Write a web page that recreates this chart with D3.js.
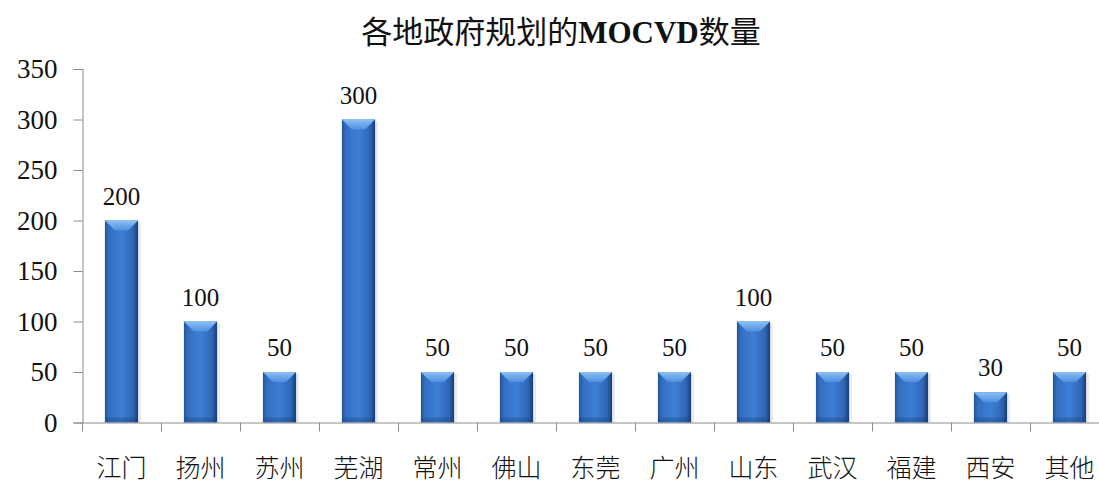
<!DOCTYPE html>
<html>
<head>
<meta charset="utf-8">
<script src="https://cdn.jsdelivr.net/npm/d3@7"></script>
<style>
  body { margin: 0; background: #fff; }
  svg { display: block; }
</style>
</head>
<body>
<div id="chart"></div>
<script>
const categories = ["江门", "扬州", "苏州", "芜湖", "常州", "佛山", "东莞", "广州", "山东", "武汉", "福建", "西安", "其他"];
const values = [200, 100, 50, 300, 50, 50, 50, 50, 100, 50, 50, 30, 50];
const yTicks = [0, 50, 100, 150, 200, 250, 300, 350];
const titleParts = [["各地政府规划的", false], ["MOCVD", true], ["数量", false]];

const W = 1099, H = 483;
const margin = { top: 69, right: -10, bottom: 60, left: 82 };

const svg = d3.select("#chart")
    .append("svg")
    .attr("width", W)
    .attr("height", H);

const x = d3.scaleBand()
    .domain(categories)
    .range([margin.left, W - margin.right])
    .paddingInner(0.58)
    .paddingOuter(0.29);

const y = d3.scaleLinear()
    .domain([0, 350])
    .range([H - margin.bottom - 0.5, margin.top]);

// gradients for the bevelled bars
const defs = svg.append("defs");
const side = defs.append("linearGradient").attr("id", "barSide")
    .attr("x1", "0%").attr("x2", "100%").attr("y1", "0%").attr("y2", "0%");
side.append("stop").attr("offset", "0%").attr("stop-color", "#24559c");
side.append("stop").attr("offset", "12%").attr("stop-color", "#336fc0");
side.append("stop").attr("offset", "50%").attr("stop-color", "#3d7fd6");
side.append("stop").attr("offset", "85%").attr("stop-color", "#2f66b4");
side.append("stop").attr("offset", "100%").attr("stop-color", "#163d76");

const topG = defs.append("linearGradient").attr("id", "barTop")
    .attr("x1", "0%").attr("x2", "0%").attr("y1", "0%").attr("y2", "100%");
topG.append("stop").attr("offset", "0%").attr("stop-color", "#8cc0f5");
topG.append("stop").attr("offset", "100%").attr("stop-color", "#4f8fe0");

// title: chinese regular, latin bold
const title = svg.append("text")
    .attr("x", 561)
    .attr("y", 32)
    .attr("text-anchor", "middle")
    .attr("dominant-baseline", "central")
    .style("font-family", "'Liberation Serif', 'Noto Sans CJK SC', serif")
    .style("font-size", "31px")
    .style("fill", "#111");
title.selectAll("tspan")
    .data(titleParts)
    .enter().append("tspan")
    .style("font-weight", d => d[1] ? "bold" : "normal")
    .text(d => d[0]);

// y axis
const yAxis = svg.append("g")
    .attr("transform", `translate(${margin.left + 0.5},0)`)
    .call(d3.axisLeft(y).tickValues(yTicks).tickSize(9).tickPadding(16));
yAxis.select(".domain").attr("stroke", "#8c8c8c");
yAxis.selectAll(".tick line").attr("stroke", "#8c8c8c");
yAxis.selectAll(".tick text")
    .style("font-family", "'Liberation Serif', serif")
    .style("font-size", "27px")
    .style("fill", "#111");

// bars
const bev = 10;
const bars = svg.append("g").selectAll("g.bar")
    .data(values)
    .enter().append("g")
    .attr("class", "bar");

bars.append("rect")
    .attr("x", (d, i) => x(categories[i]) + 3)
    .attr("y", d => y(d) + 2)
    .attr("width", x.bandwidth())
    .attr("height", d => y(0) - y(d) - 2)
    .style("fill", "#000")
    .style("opacity", 0.08);

bars.append("rect")
    .attr("x", (d, i) => x(categories[i]))
    .attr("y", d => y(d))
    .attr("width", x.bandwidth())
    .attr("height", d => y(0) - y(d))
    .style("fill", "url(#barSide)");

bars.append("polygon")
    .attr("points", (d, i) => {
        const x0 = x(categories[i]), x1 = x0 + x.bandwidth(), t = y(d);
        return [[x0, t], [x1, t], [x1 - bev, t + bev], [x0 + bev, t + bev]].join(" ");
    })
    .style("fill", "url(#barTop)");

bars.append("rect")
    .attr("x", (d, i) => x(categories[i]))
    .attr("y", d => y(0) - 5)
    .attr("width", x.bandwidth())
    .attr("height", 5)
    .style("fill", "#1b427d")
    .style("opacity", 0.35);

// value labels
svg.append("g").selectAll("text")
    .data(values)
    .enter().append("text")
    .attr("x", (d, i) => x(categories[i]) + x.bandwidth() / 2)
    .attr("y", d => y(d) - 16)
    .attr("text-anchor", "middle")
    .style("font-family", "'Liberation Serif', serif")
    .style("font-size", "25px")
    .style("fill", "#111")
    .text(d => d);

// x axis
const xAxis = svg.append("g")
    .attr("transform", `translate(0,${y(0)})`)
    .call(d3.axisBottom(x).tickSize(0).tickPadding(0));
xAxis.select(".domain").attr("stroke", "#8c8c8c");
xAxis.selectAll(".tick text").remove();

// separators between categories
const step = x.step();
const seps = d3.range(categories.length + 1).map(i => margin.left + i * step);
xAxis.selectAll("line.sep")
    .data(seps)
    .enter().append("line")
    .attr("class", "sep")
    .attr("x1", d => Math.round(d) + 0.5)
    .attr("x2", d => Math.round(d) + 0.5)
    .attr("y1", 0)
    .attr("y2", 9)
    .attr("stroke", "#8c8c8c");

// category labels
svg.append("g").selectAll("text")
    .data(categories)
    .enter().append("text")
    .attr("x", d => x(d) + x.bandwidth() / 2)
    .attr("y", 477)
    .attr("text-anchor", "middle")
    .style("font-family", "'Noto Sans CJK SC', sans-serif")
    .style("font-weight", "300")
    .style("font-size", "25px")
    .style("fill", "#111")
    .text(d => d);
</script>
</body>
</html>
